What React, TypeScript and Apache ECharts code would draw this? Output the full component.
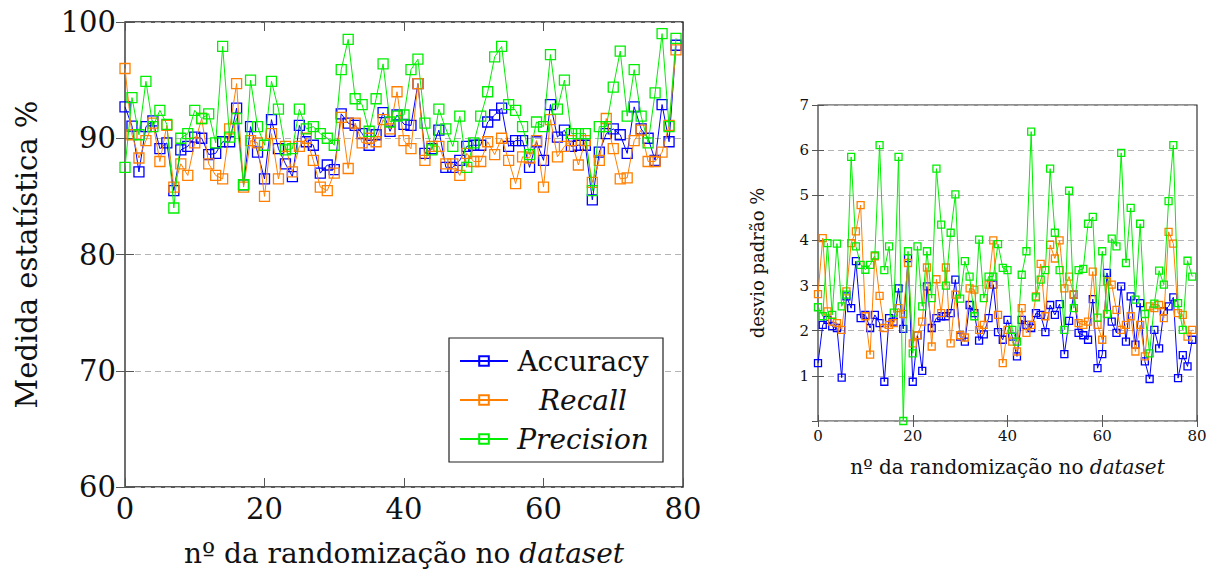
import React, { useEffect, useRef } from "react";
import * as echarts from "echarts";

const seriesNames = ["Accuracy", "Recall", "Precision"];
const colors = ["#0000ff", "#ff8000", "#00ee00"];

// Left chart: Medida estatística %
const accuracyMean = [
  92.7, 91.05, 87.1, 91.0, 91.5, 89.1, 89.6, 85.5, 89.0, 89.3,
  90.1, 90.0, 88.6, 88.7, 89.7, 89.7, 92.6, 86.0, 91.0, 88.8,
  86.5, 91.6, 89.1, 87.8, 86.7, 91.1, 89.7, 89.4, 87.0, 87.7,
  87.3, 92.1, 91.3, 91.1, 90.4, 89.4, 90.3, 92.2, 90.6, 92.0,
  91.2, 91.1, 94.7, 88.7, 89.1, 90.7, 87.5, 87.5, 88.1, 89.3,
  89.4, 89.4, 91.4, 92.0, 92.6, 89.3, 89.8, 89.8, 87.5, 89.7,
  88.1, 92.9, 90.1, 90.7, 89.3, 89.4, 89.4, 84.7, 88.8, 90.4,
  90.8, 90.3, 88.7, 92.7, 90.8, 90.0, 88.1, 92.9, 89.7, 98.0,
];
const recallMean = [
  96.0, 90.3, 88.3, 89.8, 91.3, 88.0, 91.1, 85.8, 87.8, 86.8,
  89.6, 91.7, 87.8, 86.8, 86.5, 90.8, 94.7, 85.8, 89.8, 89.6,
  85.0, 90.4, 86.5, 89.3, 87.1, 89.3, 90.0, 88.1, 85.8, 85.5,
  87.0, 91.8, 87.4, 91.3, 89.6, 90.0, 89.7, 91.6, 90.8, 94.0,
  89.8, 89.1, 94.7, 88.1, 89.3, 89.3, 87.8, 87.8, 86.8, 88.7,
  88.0, 88.0, 89.7, 88.6, 90.0, 88.1, 86.1, 88.4, 88.3, 89.8,
  85.8, 91.6, 88.4, 89.3, 89.8, 87.7, 89.8, 86.2, 88.1, 91.7,
  89.1, 86.5, 86.6, 89.8, 90.7, 88.0, 88.0, 88.8, 91.1, 97.6,
];
const precisionMean = [
  87.5, 93.5, 90.3, 94.9, 91.0, 92.4, 91.2, 84.0, 90.0, 90.4,
  92.4, 91.7, 92.1, 89.6, 97.9, 90.1, 91.7, 86.0, 95.0, 91.0,
  89.4, 94.9, 92.5, 89.0, 89.1, 92.5, 90.8, 91.0, 90.4, 90.0,
  89.4, 95.9, 98.5, 93.4, 92.9, 90.6, 93.4, 96.4, 91.4, 91.9,
  92.0, 95.9, 96.8, 91.3, 89.0, 92.5, 90.8, 89.3, 91.9, 87.5,
  89.6, 91.9, 94.0, 97.0, 97.9, 92.9, 92.4, 91.0, 88.6, 91.4,
  91.0, 97.2, 92.5, 95.0, 90.4, 90.4, 90.4, 85.5, 91.0, 91.0,
  94.4, 97.5, 91.9, 95.9, 91.9, 89.6, 93.9, 99.0, 91.0, 98.6,
];

// Right chart: desvio padrão %
const accuracyStd = [
  1.28, 2.13, 2.24, 2.1, 2.06, 0.96, 2.76, 2.5, 3.54, 2.28,
  2.35, 2.06, 2.35, 2.17, 0.87, 2.28, 2.2, 2.94, 2.04, 3.61,
  0.87, 1.9, 1.11, 2.98, 2.06, 2.28, 2.32, 2.32, 2.39, 3.13,
  1.87, 1.76, 2.57, 2.39, 1.78, 1.92, 2.28, 3.02, 1.97, 1.8,
  2.24, 1.87, 1.43, 2.24, 2.13, 2.06, 2.39, 2.35, 1.97, 2.57,
  2.35, 2.59, 1.48, 2.22, 2.8, 1.95, 1.9, 1.8, 2.7, 1.17,
  1.48, 3.28, 2.2, 1.95, 2.98, 1.76, 2.76, 1.69, 2.61, 1.32,
  0.93, 2.02, 1.61, 2.43, 2.54, 2.74, 0.95, 1.46, 1.21, 1.8,
];
const recallStd = [
  2.81, 4.05, 2.43, 2.2, 2.17, 2.02, 2.87, 3.94, 4.2, 4.78,
  2.32, 1.47, 3.65, 2.77, 2.06, 2.13, 2.17, 2.5, 2.37, 3.5,
  1.72, 1.9, 2.2, 3.4, 1.65, 3.14, 2.39, 3.4, 1.72, 2.8,
  1.9, 1.85, 2.94, 2.91, 2.02, 2.13, 3.02, 4.0, 2.35, 1.28,
  2.02, 1.76, 1.54, 2.5, 1.95, 2.13, 2.76, 3.48, 2.32, 3.9,
  3.6, 4.0, 2.94, 3.2, 2.8, 2.17, 2.13, 2.2, 3.31, 2.13,
  1.8, 3.09, 3.02, 2.46, 2.02, 2.13, 2.32, 1.54, 2.13, 1.43,
  2.54, 2.5, 2.57, 2.28, 4.19, 3.93, 2.39, 2.35, 1.87, 2.02,
];
const precisionStd = [
  2.52, 2.32, 3.94, 2.35, 3.93, 2.54, 2.8, 5.85, 3.87, 3.46,
  3.35, 3.46, 3.67, 6.11, 3.34, 3.87, 2.4, 5.85, 0.0, 3.76,
  1.5, 3.87, 2.54, 3.76, 2.72, 5.59, 4.35, 3.0, 4.17, 5.02,
  2.71, 3.54, 3.2, 2.32, 4.02, 2.72, 3.2, 3.2, 3.92, 3.39,
  3.34, 2.02, 1.76, 3.24, 3.76, 6.41, 2.74, 3.13, 3.34, 5.59,
  4.17, 3.34, 2.02, 5.1, 2.5, 3.34, 3.37, 4.37, 4.52, 2.29,
  3.76, 2.37, 4.04, 3.87, 5.94, 3.5, 4.72, 2.69, 4.37, 2.37,
  1.5, 2.6, 3.33, 3.02, 4.87, 6.11, 2.61, 2.02, 3.55, 3.2,
];

const xTicks = { min: 0, max: 80, interval: 20 };
const leftY = { min: 60, max: 100, interval: 10 };
const rightY = { min: 0, max: 7, interval: 1 };

const FONT = "DejaVu Serif, serif";

export default function App() {
  const ref = useRef<HTMLDivElement>(null);

  useEffect(() => {
    if (!ref.current) return;
    const chart = echarts.init(ref.current, null, { renderer: "svg" });

    const tickStyle = { color: "#555", width: 1 };
    const dashed = { show: true, lineStyle: { color: "#b4b4b4", type: [6, 4], width: 1 } };

    const mkX = (grid: number, fontSize: number, tickLen: number, name?: any, nameSize?: number, nameGap?: number) => [
      {
        type: "value", gridIndex: grid, ...xTicks, position: "bottom",
        axisLine: { show: false },
        axisTick: { show: true, inside: true, length: tickLen, lineStyle: tickStyle },
        axisLabel: { fontFamily: FONT, fontSize, color: "#111", margin: 7 },
        splitLine: { show: false },
        name, nameLocation: "middle", nameGap,
        nameTextStyle: {
          fontFamily: FONT, fontSize: nameSize, color: "#111",
          rich: {
            a: { fontFamily: FONT, fontSize: nameSize, color: "#111" },
            b: { fontFamily: FONT, fontSize: nameSize, color: "#111", fontStyle: "italic" },
          },
        },
      },
      {
        type: "value", gridIndex: grid, ...xTicks, position: "top",
        axisLine: { show: false },
        axisTick: { show: true, inside: true, length: tickLen, lineStyle: tickStyle },
        axisLabel: { show: false },
        splitLine: { show: false },
      },
    ];

    const mkY = (grid: number, range: any, fontSize: number, tickLen: number, name: string, nameSize: number, nameGap: number, showMin: boolean) => [
      {
        type: "value", gridIndex: grid, ...range, position: "left",
        axisLine: { show: false },
        axisTick: { show: true, inside: true, length: tickLen, lineStyle: tickStyle },
        axisLabel: { fontFamily: FONT, fontSize, color: "#111", margin: 9, showMinLabel: showMin },
        splitLine: dashed,
        name, nameLocation: "middle", nameRotate: 90, nameGap,
        nameTextStyle: { fontFamily: FONT, fontSize: nameSize, color: "#111" },
      },
      {
        type: "value", gridIndex: grid, ...range, position: "right",
        axisLine: { show: false },
        axisTick: { show: true, inside: true, length: tickLen, lineStyle: tickStyle },
        axisLabel: { show: false },
        splitLine: { show: false },
      },
    ];

    const xTitle = "{a|nº da randomização no }{b|dataset}";

    const mkSeries = (vals: number[][], xi: number, yi: number, size: number) =>
      vals.map((arr, k) => ({
        name: seriesNames[k],
        type: "line",
        xAxisIndex: xi,
        yAxisIndex: yi,
        data: arr.map((v, i) => [i, v]),
        symbol: "rect",
        symbolSize: size,
        showAllSymbol: true,
        itemStyle: { color: "rgba(255,255,255,0)", borderColor: colors[k], borderWidth: 1.3 },
        lineStyle: { color: colors[k], width: 1 },
        emphasis: { disabled: true },
        z: 2 + k,
      }));

    chart.setOption({
      animation: false,
      backgroundColor: "#fff",
      grid: [
        { left: 125, top: 22, width: 558, height: 465, show: true, borderColor: "#222", borderWidth: 1.3, backgroundColor: "transparent" },
        { left: 818, top: 105, width: 379, height: 316, show: true, borderColor: "#222", borderWidth: 1.1, backgroundColor: "transparent" },
      ],
      xAxis: [
        ...mkX(0, 29, 9, xTitle, 28, 52),
        ...mkX(1, 15, 6, xTitle, 20, 36),
      ],
      yAxis: [
        ...mkY(0, leftY, 29, 9, "Medida estatística %", 29, 84, true),
        ...mkY(1, rightY, 15, 6, "desvio padrão %", 18, 52, false),
      ],
      legend: {
        data: seriesNames,
        orient: "vertical",
        left: 449,
        top: 338,
        padding: [6, 10, 6, 10],
        itemGap: 5,
        itemWidth: 48,
        itemHeight: 12,
        borderColor: "#222",
        borderWidth: 1.2,
        backgroundColor: "#fff",
        selectedMode: false,
        formatter: (n: string) => (n === "Accuracy" ? `{c|${n}}` : `{i|${n}}`),
        textStyle: {
          fontFamily: FONT, fontSize: 28, color: "#111", lineHeight: 34,
          rich: {
            c: { fontFamily: FONT, fontSize: 28, color: "#111", width: 140, align: "center", lineHeight: 34 },
            i: { fontFamily: FONT, fontSize: 28, color: "#111", width: 140, align: "center", fontStyle: "italic", lineHeight: 34 },
          },
        },
      },
      series: [
        ...mkSeries([accuracyMean, recallMean, precisionMean], 0, 0, 10),
        ...mkSeries([accuracyStd, recallStd, precisionStd], 2, 2, 7),
      ],
    });

    return () => chart.dispose();
  }, []);

  return (
    <div
      ref={ref}
      style={{ position: "fixed", left: 0, top: 0, width: 1216, height: 574, background: "#fff" }}
    />
  );
}
